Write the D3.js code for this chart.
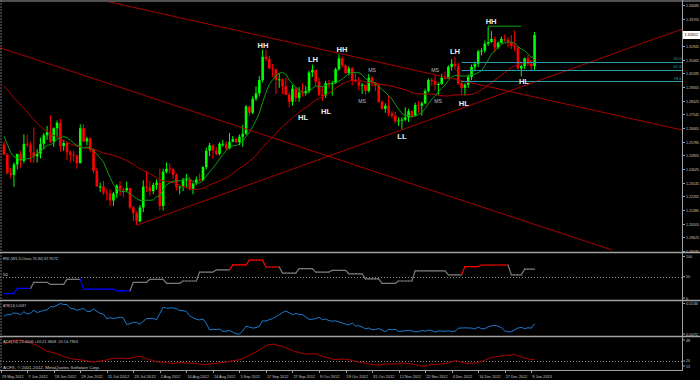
<!DOCTYPE html>
<html><head><meta charset="utf-8">
<script src="https://cdn.jsdelivr.net/npm/d3@7"></script>
<style>html,body{margin:0;padding:0;background:#000;overflow:hidden}svg{display:block}</style>
</head><body><svg id="c" width="700" height="380"></svg>
<script>
// ---------- DATA (EURUSD Daily) ----------
// warm-up history before the first visible bar (16 Apr – 28 May 2012), used only by the indicators
const histHigh  = [1.3120,1.3175,1.3165,1.3145,1.3220,1.3215,1.3210,1.3265,1.3265,1.3265,1.3280,1.3250,1.3220,1.3185,1.3175,1.3085,1.3060,1.3000,1.2995,1.2975,1.2925,1.2860,1.2785,1.2745,1.2815,1.2815,1.2790,1.2665,1.2600,1.2570,1.2585];
const histLow   = [1.2995,1.3060,1.3085,1.3075,1.3110,1.3110,1.3130,1.3180,1.3175,1.3180,1.3215,1.3190,1.3140,1.3125,1.3045,1.2955,1.2970,1.2910,1.2915,1.2900,1.2820,1.2745,1.2640,1.2640,1.2670,1.2705,1.2645,1.2515,1.2495,1.2495,1.2510];
const histClose = [1.3070,1.3160,1.3110,1.3130,1.3220,1.3160,1.3195,1.3230,1.3245,1.3240,1.3235,1.3200,1.3155,1.3150,1.3080,1.3050,1.2985,1.2945,1.2955,1.2915,1.2830,1.2780,1.2715,1.2685,1.2780,1.2780,1.2660,1.2580,1.2535,1.2515,1.2560];

// visible bars: 29 May 2012 – 10 Jan 2013
const open = [1.2560,1.2495,1.2375,1.2365,1.2432,1.2500,1.2455,1.2565,1.2560,1.2510,1.2485,1.2500,1.2565,1.2620,1.2640,1.2580,1.2665,1.2700,1.2550,1.2570,
1.2510,1.2495,1.2490,1.2440,1.2665,1.2580,1.2600,1.2525,1.2390,1.2290,1.2290,1.2250,1.2245,1.2200,1.2245,1.2295,1.2270,1.2265,1.2280,1.2155,
1.2120,1.2065,1.2155,1.2290,1.2285,1.2260,1.2300,1.2315,1.2165,1.2385,1.2405,1.2400,1.2365,1.2285,1.2290,1.2335,1.2335,1.2275,1.2310,1.2335,
1.2330,1.2415,1.2520,1.2555,1.2520,1.2500,1.2565,1.2565,1.2535,1.2578,1.2595,1.2575,1.2610,1.2630,1.2805,1.2765,1.2855,1.2890,1.2975,1.3125,
1.3110,1.3050,1.3045,1.2975,1.2980,1.2935,1.2880,1.2835,1.2920,1.2860,1.2895,1.2890,1.2905,1.3025,1.3040,1.2965,1.2880,1.2875,1.2955,1.2950,
1.2955,1.3045,1.3115,1.3070,1.3020,1.3050,1.2975,1.2965,1.2940,1.2945,1.2905,1.2990,1.2960,1.2940,1.2835,1.2790,1.2810,1.2760,1.2745,1.2710,
1.2715,1.2720,1.2735,1.2775,1.2745,1.2815,1.2810,1.2825,1.2905,1.2975,1.2970,1.2945,1.2950,1.2990,1.2985,1.3060,1.3080,1.3065,1.2955,1.2925,
1.2945,1.2995,1.3060,1.3080,1.3160,1.3165,1.3210,1.3220,1.3240,1.3185,1.3215,1.3240,1.3235,1.3220,1.3195,1.3185,1.3050,1.3065,1.3115,1.3080,
1.3065];
const high = [1.2580,1.2505,1.2410,1.2445,1.2500,1.2520,1.2625,1.2625,1.2575,1.2670,1.2530,1.2605,1.2635,1.2680,1.2748,1.2670,1.2715,1.2725,1.2590,1.2575,
1.2520,1.2520,1.2495,1.2690,1.2690,1.2610,1.2605,1.2535,1.2410,1.2315,1.2325,1.2275,1.2270,1.2255,1.2305,1.2325,1.2285,1.2320,1.2280,1.2165,
1.2130,1.2170,1.2330,1.2390,1.2325,1.2315,1.2335,1.2405,1.2405,1.2445,1.2440,1.2410,1.2375,1.2290,1.2345,1.2370,1.2350,1.2315,1.2355,1.2375,
1.2420,1.2540,1.2570,1.2560,1.2545,1.2575,1.2590,1.2580,1.2635,1.2615,1.2605,1.2625,1.2685,1.2815,1.2810,1.2870,1.2935,1.3000,1.3170,1.3172,
1.3130,1.3080,1.3045,1.3020,1.2985,1.2990,1.2895,1.2945,1.2935,1.2930,1.2955,1.2935,1.3035,1.3075,1.3040,1.2990,1.2935,1.2970,1.2975,1.2970,
1.3055,1.3140,1.3125,1.3075,1.3065,1.3060,1.3020,1.2995,1.2955,1.2945,1.3015,1.3000,1.2965,1.2950,1.2845,1.2825,1.2880,1.2775,1.2770,1.2735,
1.2735,1.2800,1.2790,1.2780,1.2830,1.2840,1.2835,1.2920,1.2985,1.2990,1.3005,1.2960,1.3015,1.3030,1.3070,1.3110,1.3125,1.3085,1.2975,1.2955,
1.3010,1.3075,1.3095,1.3170,1.3180,1.3230,1.3320,1.3290,1.3255,1.3225,1.3255,1.3270,1.3250,1.3265,1.3295,1.3195,1.3075,1.3120,1.3135,1.3105,
1.3285];
const low = [1.2495,1.2370,1.2345,1.2288,1.2400,1.2410,1.2440,1.2540,1.2445,1.2440,1.2445,1.2470,1.2530,1.2590,1.2570,1.2545,1.2605,1.2515,1.2520,1.2460,
1.2445,1.2450,1.2405,1.2440,1.2575,1.2555,1.2510,1.2375,1.2290,1.2255,1.2235,1.2200,1.2165,1.2165,1.2215,1.2230,1.2220,1.2255,1.2145,1.2065,
1.2042,1.2060,1.2125,1.2255,1.2230,1.2240,1.2270,1.2135,1.2135,1.2375,1.2375,1.2340,1.2265,1.2240,1.2260,1.2285,1.2265,1.2240,1.2300,1.2320,
1.2325,1.2400,1.2485,1.2470,1.2490,1.2490,1.2545,1.2525,1.2530,1.2575,1.2570,1.2555,1.2545,1.2620,1.2745,1.2755,1.2840,1.2870,1.2960,1.3095,
1.3045,1.2995,1.2885,1.2925,1.2885,1.2880,1.2800,1.2810,1.2835,1.2835,1.2870,1.2875,1.2890,1.2995,1.2935,1.2870,1.2840,1.2860,1.2920,1.2875,
1.2950,1.3035,1.3055,1.3015,1.3005,1.2940,1.2960,1.2910,1.2885,1.2880,1.2895,1.2935,1.2905,1.2830,1.2785,1.2765,1.2740,1.2730,1.2695,1.2680,
1.2661,1.2710,1.2705,1.2730,1.2740,1.2765,1.2745,1.2820,1.2895,1.2940,1.2910,1.2880,1.2945,1.2980,1.2985,1.3035,1.3040,1.2945,1.2880,1.2875,
1.2925,1.2975,1.3035,1.3060,1.3135,1.3150,1.3195,1.3215,1.3155,1.3175,1.3210,1.3220,1.3185,1.3175,1.3160,1.3045,1.2998,1.3045,1.3065,1.3035,
1.3035];
const close = [1.2495,1.2375,1.2365,1.2432,1.2500,1.2455,1.2565,1.2560,1.2510,1.2485,1.2500,1.2565,1.2620,1.2640,1.2580,1.2665,1.2700,1.2550,1.2570,1.2510,
1.2495,1.2490,1.2440,1.2665,1.2580,1.2600,1.2525,1.2390,1.2290,1.2290,1.2250,1.2245,1.2200,1.2245,1.2295,1.2270,1.2265,1.2280,1.2155,1.2120,
1.2065,1.2155,1.2290,1.2285,1.2260,1.2300,1.2315,1.2165,1.2385,1.2405,1.2400,1.2365,1.2285,1.2290,1.2335,1.2335,1.2275,1.2310,1.2335,1.2330,
1.2415,1.2520,1.2555,1.2520,1.2500,1.2565,1.2565,1.2535,1.2578,1.2595,1.2575,1.2610,1.2630,1.2805,1.2765,1.2855,1.2890,1.2975,1.3125,1.3110,
1.3050,1.3045,1.2975,1.2980,1.2935,1.2880,1.2835,1.2920,1.2860,1.2895,1.2890,1.2905,1.3025,1.3040,1.2965,1.2880,1.2875,1.2955,1.2950,1.2955,
1.3045,1.3115,1.3070,1.3020,1.3050,1.2975,1.2965,1.2940,1.2945,1.2905,1.2990,1.2960,1.2940,1.2835,1.2790,1.2810,1.2760,1.2745,1.2710,1.2715,
1.2720,1.2735,1.2775,1.2745,1.2815,1.2810,1.2825,1.2905,1.2975,1.2970,1.2945,1.2950,1.2990,1.2985,1.3060,1.3080,1.3065,1.2955,1.2925,1.2945,
1.2995,1.3060,1.3080,1.3160,1.3165,1.3210,1.3220,1.3240,1.3185,1.3215,1.3240,1.3235,1.3220,1.3195,1.3185,1.3050,1.3065,1.3115,1.3080,1.3065,
1.3265];

// weekly RSI(5) shown on the daily chart: one value per week, bars per week
const rsiWeekly = [10.5,22.5,37,32,44,21,21,17,37,44,34.5,40,61,66,78,89,73,58.5,69,61,65,57,45,34.5,40,64,64,54.5,74,77.6,77.6,54.5,67.9172];
const weekBars  = [4,5,5,5,5,5,5,5,5,5,5,5,5,5,5,5,5,5,5,5,5,5,5,5,5,5,5,5,5,5,4,4,4];

// axis labels
const priceTicks = [1.34585,1.33705,1.31945,1.31065,1.30185,1.29305,1.28425,1.27545,1.26665,1.25785,1.24905,1.24025,1.23145,1.22265,1.21385,1.20505,1.19625,1.18745];
const lastPrice = 1.32652;
const dateLabels = ["29 May 2012","7 Jun 2012","19 Jun 2012","29 Jun 2012","11 Jul 2012","23 Jul 2012","2 Aug 2012","14 Aug 2012","24 Aug 2012","5 Sep 2012","17 Sep 2012","27 Sep 2012","9 Oct 2012","19 Oct 2012","31 Oct 2012","12 Nov 2012","22 Nov 2012","4 Dec 2012","14 Dec 2012","27 Dec 2012","9 Jan 2013"];
const dateLabelBars = [0,7,15,23,31,39,47,55,63,71,79,87,95,103,111,119,127,135,143,151,159];
const rsiTicks = [100,50,0];

// drawn objects (bar index, price)
const trendLines = [
  {a:[30.5,1.34840], b:[204.5,1.26537]},
  {a:[-1.2,1.31835], b:[183.4,1.18813]},
  {a:[40.1,1.20420], b:[204.5,1.33038]}
];
const hhLine = {a:[146,1.3322], b:[156,1.3322]};
const fibLevels = [{t:"50.0",p:1.30915},{t:"61.8",p:1.30404},{t:"78.6",p:1.29680}];
const fibRange = [138, 204.5];
const swingLabels = [
  {t:"HH",i:78.1,p:1.32008},{t:"LH",i:93.2,p:1.31043},{t:"HL",i:90.2,p:1.27374},{t:"HL",i:97.1,p:1.27760},
  {t:"HH",i:101.9,p:1.31687},{t:"LL",i:120,p:1.26151},{t:"LH",i:136,p:1.31622},{t:"HL",i:138.7,p:1.28211},
  {t:"HH",i:146.9,p:1.33553},{t:"HL",i:156.8,p:1.29691}
];
const msLabels = [{i:111,p:1.30399},{i:108,p:1.28404},{i:130,p:1.30399},{i:130.9,p:1.28404}];

const texts = {
  rsi:"RSI (W1,5,Close,70,30) 67.9172",
  atr:"ATR(14) 0.0097",
  adx:"ADX(14) 23.4006 +DI:21.3608 -DI:14.7953",
  copy:"ACFX, \u00A9 2001-2012, MetaQuotes Software Corp."
};

// ---------- INDICATORS derived from the bars ----------
const H0 = histClose.length;
const allH = histHigh.concat(high), allL = histLow.concat(low), allC = histClose.concat(close);
const n = allC.length;
function sma(arr, p, i){ let s=0; for(let k=i-p+1;k<=i;k++) s+=arr[k]; return s/p; }
const fastMA = close.map((_,i)=>sma(allC,8,i+H0));
const slowMA = close.map((_,i)=>sma(allC,30,i+H0));
const tr = allC.map((c,i)=> i===0 ? allH[0]-allL[0] : Math.max(allH[i]-allL[i], Math.abs(allH[i]-allC[i-1]), Math.abs(allL[i]-allC[i-1])));
const atr = close.map((_,i)=>sma(tr,14,i+H0));
// ADX (Wilder)
const N=14, pDM=[0], mDM=[0];
for(let i=1;i<n;i++){const up=allH[i]-allH[i-1], dn=allL[i-1]-allL[i]; pDM[i]=(up>dn&&up>0)?up:0; mDM[i]=(dn>up&&dn>0)?dn:0;}
let sTR=0,sP=0,sM=0; const dx=[];
for(let i=1;i<n;i++){
  if(i<=N){sTR+=tr[i];sP+=pDM[i];sM+=mDM[i];}
  else {sTR=sTR-sTR/N+tr[i]; sP=sP-sP/N+pDM[i]; sM=sM-sM/N+mDM[i];}
  if(i>=N){const pd=100*sP/sTR, md=100*sM/sTR; dx[i]=100*Math.abs(pd-md)/(pd+md||1);}
}
const adxAll=[]; let acc=0;
for(let i=N;i<n;i++){ if(i<2*N-1){acc+=dx[i];} else if(i===2*N-1){acc+=dx[i]; adxAll[i]=acc/N;} else adxAll[i]=(adxAll[i-1]*(N-1)+dx[i])/N; }
const adx = close.map((_,i)=>adxAll[i+H0]);
const rsi = []; weekBars.forEach((b,w)=>{for(let k=0;k<b;k++) rsi.push(rsiWeekly[w]);});

// ---------- LAYOUT ----------
const svg = d3.select("#c");
const W=700, AX=682.5;
const FONT = "'Liberation Sans', Arial, sans-serif";
const TXT = "#c8c8c8";
svg.append("rect").attr("width",W).attr("height",380).attr("fill","#000");
const x = d3.scaleLinear().domain([0,160]).range([4, 4+160*3.316]);
const y = d3.scaleLinear().domain([1.18685,1.34776]).range([252,2]);
const yR = d3.scaleLinear().domain([0,100]).range([298,255.5]);
const yA = d3.scaleLinear().domain(d3.extent(atr)).range([334,303.5]);
const yD = d3.scaleLinear().domain(d3.extent(adx)).range([366,340]);

// small text helper: squeezes the text to the width it has in the picture
function small(parent, xx, yy, t, opt){
  opt = opt||{};
  const el = parent.append("text").attr("x",xx).attr("y",yy)
    .attr("font-family",FONT).attr("font-size",opt.size||4.4).attr("fill",opt.fill||TXT).text(t);
  if(opt.w) el.attr("textLength",opt.w).attr("lengthAdjust","spacingAndGlyphs");
  if(opt.anchor) el.attr("text-anchor",opt.anchor);
  if(opt.mid) el.attr("dominant-baseline","central");
  return el;
}

// clip for main panel
const defs = svg.append("defs");
defs.append("clipPath").attr("id","cm").append("rect").attr("x",0).attr("y",2).attr("width",AX).attr("height",250);
const main = svg.append("g").attr("clip-path","url(#cm)");

// candles
const bars = d3.range(close.length).map(i=>({i,o:open[i],h:high[i],l:low[i],c:close[i]}));
const col = d=> d.c>=d.o ? "#00ff00" : "#ff0000";
main.selectAll("line.wick").data(bars).join("line").attr("class","wick")
  .attr("x1",d=>x(d.i)).attr("x2",d=>x(d.i)).attr("y1",d=>y(d.h)).attr("y2",d=>y(d.l))
  .attr("stroke",col).attr("stroke-width",1);
main.selectAll("rect.body").data(bars).join("rect").attr("class","body")
  .attr("x",d=>x(d.i)-1.3).attr("width",2.6)
  .attr("y",d=>y(Math.max(d.o,d.c))).attr("height",d=>Math.max(1,Math.abs(y(d.o)-y(d.c))))
  .attr("fill",col);

// moving averages
const lineGen = (sy)=> d3.line().x((d,i)=>x(i)).y(d=>sy(d));
main.append("path").datum(slowMA).attr("d",lineGen(y)).attr("fill","none").attr("stroke","#b40000").attr("stroke-width",1);
main.append("path").datum(fastMA).attr("d",lineGen(y)).attr("fill","none").attr("stroke","#119b11").attr("stroke-width",1);

// trend lines
main.selectAll("line.tl").data(trendLines).join("line").attr("class","tl")
  .attr("x1",d=>x(d.a[0])).attr("y1",d=>y(d.a[1])).attr("x2",d=>x(d.b[0])).attr("y2",d=>y(d.b[1]))
  .attr("stroke","#a80000").attr("stroke-width",1);
main.append("line").attr("x1",x(hhLine.a[0])).attr("x2",x(hhLine.b[0])).attr("y1",y(hhLine.a[1])).attr("y2",y(hhLine.b[1]))
  .attr("stroke","#12a012").attr("stroke-width",1);

// fibonacci levels
main.selectAll("line.fib").data(fibLevels).join("line").attr("class","fib")
  .attr("x1",x(fibRange[0])).attr("x2",x(fibRange[1])).attr("y1",d=>Math.round(y(d.p))+0.5).attr("y2",d=>Math.round(y(d.p))+0.5)
  .attr("stroke","#2b9aa8").attr("stroke-width",1);
fibLevels.forEach(d=>small(main, AX-1, y(d.p)-1.5, d.t, {size:4.4, w:8, anchor:"end", fill:"#2b9aa8"}));

// swing labels
main.selectAll("text.sw").data(swingLabels).join("text").attr("class","sw")
  .attr("x",d=>x(d.i)).attr("y",d=>y(d.p)).attr("text-anchor","middle").attr("dominant-baseline","central")
  .attr("font-family",FONT).attr("font-size",7.6).attr("font-weight","bold").attr("fill","#ececec").text(d=>d.t);
main.selectAll("text.ms").data(msLabels).join("text").attr("class","ms")
  .attr("x",d=>x(d.i)).attr("y",d=>y(d.p)).attr("text-anchor","middle").attr("dominant-baseline","central")
  .attr("font-family",FONT).attr("font-size",5.2).attr("fill","#bdbdbd").text("MS");

// ---------- sub panels ----------
// RSI (colored steps)
const rsiCol = v => v>70 ? "#ff0000" : (v<30 ? "#0000ff" : "#7a7a7a");
svg.append("line").attr("x1",0).attr("x2",AX).attr("y1",Math.round(yR(50))+0.5).attr("y2",Math.round(yR(50))+0.5)
  .attr("stroke","#8a8a8a").attr("stroke-dasharray","1,2");
const rsiSeg = d3.range(1,rsi.length).map(i=>({i, a:rsi[i-1], b:rsi[i]}));
svg.selectAll("line.rsi").data(rsiSeg).join("line").attr("class","rsi")
  .attr("x1",d=>x(d.i-1)).attr("x2",d=>x(d.i)).attr("y1",d=>yR(d.a)).attr("y2",d=>yR(d.b))
  .attr("stroke",d=>rsiCol(d.b)).attr("stroke-width",1.2).attr("stroke-linecap","round");

// ATR
svg.append("path").datum(atr).attr("d",lineGen(yA)).attr("fill","none").attr("stroke","#1f7bd0").attr("stroke-width",1);

// ADX
svg.append("line").attr("x1",0).attr("x2",AX).attr("y1",Math.round(yD(20))+0.5).attr("y2",Math.round(yD(20))+0.5)
  .attr("stroke","#8a8a8a").attr("stroke-dasharray","1,2");
svg.append("path").datum(adx).attr("d",lineGen(yD)).attr("fill","none").attr("stroke","#b40000").attr("stroke-width",1);

// ---------- frame ----------
const frame = "#a0a0a0";
svg.append("line").attr("x1",0).attr("x2",W).attr("y1",1).attr("y2",1).attr("stroke",frame);
svg.append("line").attr("x1",1).attr("x2",1).attr("y1",0).attr("y2",370).attr("stroke","#707070").attr("stroke-dasharray","2,1");
[252.5,300.5,336.5].forEach(v=>svg.append("line").attr("x1",0).attr("x2",W).attr("y1",v).attr("y2",v).attr("stroke",frame).attr("stroke-width",1.5));
svg.append("line").attr("x1",AX).attr("x2",AX).attr("y1",0).attr("y2",371).attr("stroke",frame);
svg.append("line").attr("x1",0).attr("x2",AX).attr("y1",370.5).attr("y2",370.5).attr("stroke",frame);

// price axis
const fmt5 = d3.format(".5f");
priceTicks.forEach(v=>{
  const yy=Math.round(y(v))+0.5;
  svg.append("line").attr("x1",AX).attr("x2",AX+2.5).attr("y1",yy).attr("y2",yy).attr("stroke",frame);
  small(svg, AX+3.5, yy, fmt5(v), {size:4.1, w:13, mid:true});
});
svg.append("rect").attr("x",AX+0.5).attr("y",y(lastPrice)-4).attr("width",W-AX).attr("height",8).attr("fill","#ffffff");
small(svg, AX+2, y(lastPrice), fmt5(lastPrice), {size:4.1, w:13.5, mid:true, fill:"#000"});

// sub-panel scale labels
function rlabel(yy, t){
  svg.append("line").attr("x1",AX).attr("x2",AX+2.5).attr("y1",yy).attr("y2",yy).attr("stroke",frame);
  small(svg, AX+3.5, yy, t, {size:4.1, w:t.length*2, mid:true});
}
rsiTicks.forEach(v=>rlabel(v===100 ? yR(v)+1 : yR(v), String(v)));
yA.domain().slice().reverse().forEach(v=>rlabel(yA(v), d3.format(".4f")(v)));
[d3.max(adx),20,d3.min(adx)].forEach(v=>rlabel(yD(v), d3.format(".0f")(v)));

// panel titles
small(svg, 3, 259.5, texts.rsi, {w:55});
small(svg, 3, 306.5, texts.atr, {w:23});
small(svg, 3, 342.5, texts.adx, {w:75});
small(svg, 3, yR(50)-1, "50", {w:5});
small(svg, 3, 369, texts.copy, {w:97});

// date axis
dateLabels.forEach((t,k)=>{
  const bi = dateLabelBars[k];
  const xx = k===0 ? 1 : x(bi);
  svg.append("line").attr("x1",Math.round(xx)+0.5).attr("x2",Math.round(xx)+0.5).attr("y1",370.5).attr("y2",373).attr("stroke",frame);
  small(svg, xx+1, 377.5, t, {size:4.3, w:t.length*1.95});
});
</script></body></html>
